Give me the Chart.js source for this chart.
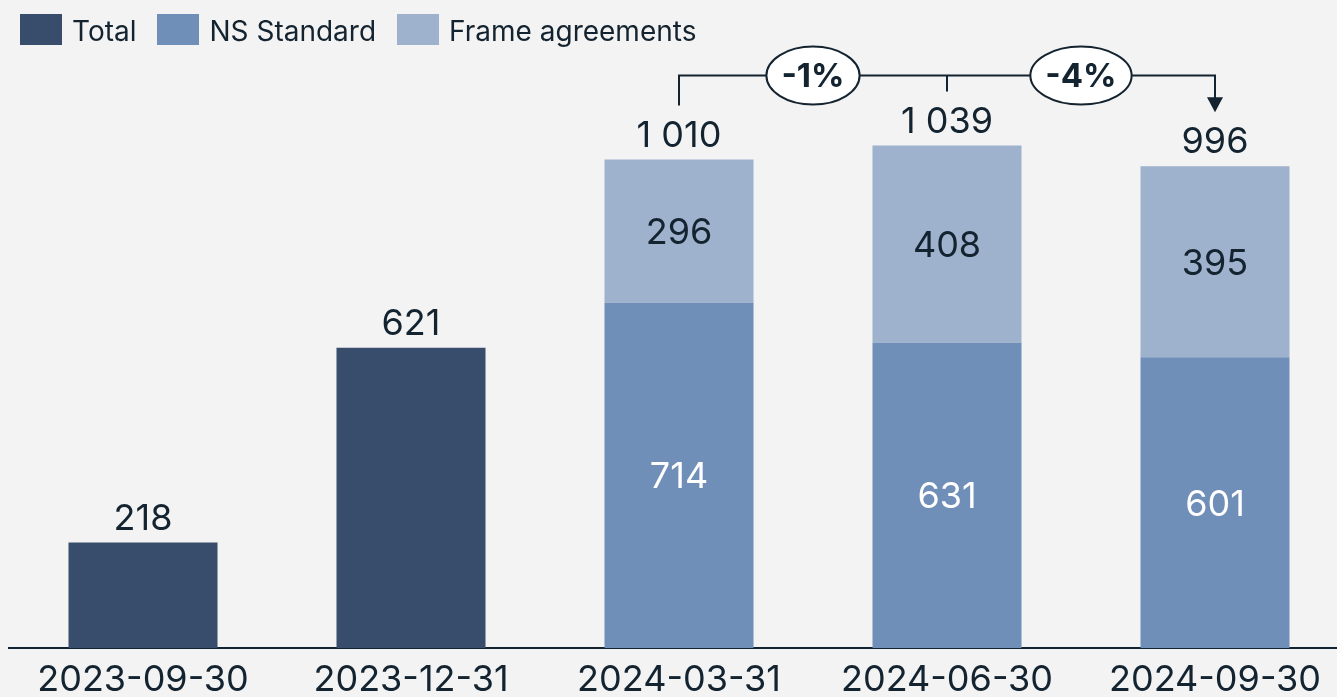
<!DOCTYPE html>
<html>
<head>
<meta charset="utf-8">
<script src="https://cdn.jsdelivr.net/npm/chart.js@4/dist/chart.umd.min.js"></script>
<style>
    html, body { margin: 0; padding: 0; background: #f3f3f3; overflow: hidden; }
    #wrap { position: relative; width: 1337px; height: 697px; overflow: hidden; }
    #chart { position: absolute; left: 0; top: 0; }
    #legend { position: absolute; left: 20px; top: 12px; display: flex; font-family: Inter, sans-serif; font-size: 28px; color: #13232f; }
    .item { display: flex; align-items: center; margin-right: 21px; height: 31px; padding-top: 3px; }
    .swatch { width: 42px; height: 31px; margin-right: 10px; margin-top: -3px; }
</style>
</head>
<body>
<div id="wrap">
    <canvas id="chart" width="1350" height="709"></canvas>
    <div id="legend"></div>
</div>
<script>
const categories = ["2023-09-30", "2023-12-31", "2024-03-31", "2024-06-30", "2024-09-30"];
const totalValues = [218, 621, null, null, null];
const nsStandardValues = [null, null, 714, 631, 601];
const frameValues = [null, null, 296, 408, 395];
const seriesNames = ["Total", "NS Standard", "Frame agreements"];
const seriesColors = ["#384d6c", "#6f8eb8", "#9eb1cd"];
const labelColors = ["#ffffff", "#ffffff", "#13232f"];
const yMax = 1340;

const textColor = "#13232f";
const fontName = "Inter, sans-serif";

function formatNumber(v) {
    // thousands with a space, like "1 010"
    return String(v).replace(/\B(?=(\d{3})+(?!\d))/g, "\u00a0");
}

function stackTotal(i) {
    return (totalValues[i] || 0) + (nsStandardValues[i] || 0) + (frameValues[i] || 0);
}

// legend in html
const legend = document.getElementById("legend");
seriesNames.forEach((name, i) => {
    legend.innerHTML += `<div class="item"><div class="swatch" style="background:${seriesColors[i]}"></div>${name}</div>`;
});

// numbers inside the segments and totals above the stacks
const labelsPlugin = {
    id: "barLabels",
    afterDatasetsDraw(chart) {
        const ctx = chart.ctx;
        const yScale = chart.scales.y;
        ctx.save();
        ctx.font = "36px " + fontName;
        ctx.textAlign = "center";

        chart.data.datasets.forEach((ds, d) => {
            const meta = chart.getDatasetMeta(d);
            meta.data.forEach((bar, i) => {
                if (ds.data[i] == null || d === 0) return;
                ctx.fillStyle = labelColors[d];
                ctx.textBaseline = "middle";
                ctx.fillText(formatNumber(ds.data[i]), bar.x, (bar.y + bar.base) / 2 + 2);
            });
        });

        const xScale = chart.scales.x;
        ctx.fillStyle = textColor;
        ctx.textBaseline = "alphabetic";
        categories.forEach((c, i) => {
            const top = yScale.getPixelForValue(stackTotal(i));
            ctx.fillText(formatNumber(stackTotal(i)), xScale.getPixelForValue(i), top - 13);
        });
        ctx.restore();
    }
};

// change bracket: 2024-03-31 -> 2024-09-30 and 2024-06-30 -> 2024-09-30
const bracketPlugin = {
    id: "bracket",
    afterDatasetsDraw(chart) {
        const ctx = chart.ctx;
        const xScale = chart.scales.x;
        const yScale = chart.scales.y;
        const idx = [2, 3, 4];
        const xs = idx.map(i => xScale.getPixelForValue(i));
        const tops = idx.map(i => yScale.getPixelForValue(stackTotal(i)) - 54);
        const lineY = Math.min(...idx.map(i => yScale.getPixelForValue(stackTotal(i)))) - 70;

        ctx.save();
        ctx.strokeStyle = textColor;
        ctx.fillStyle = textColor;
        ctx.lineWidth = 2;
        ctx.beginPath();
        ctx.moveTo(xs[0], tops[0]);
        ctx.lineTo(xs[0], lineY);
        ctx.lineTo(xs[2], lineY);
        ctx.lineTo(xs[2], tops[2] - 14);
        ctx.moveTo(xs[1], lineY);
        ctx.lineTo(xs[1], tops[1]);
        ctx.stroke();

        // arrow head
        ctx.beginPath();
        ctx.moveTo(xs[2] - 8, tops[2] - 15);
        ctx.lineTo(xs[2] + 8, tops[2] - 15);
        ctx.lineTo(xs[2], tops[2]);
        ctx.closePath();
        ctx.fill();

        const last = stackTotal(4);
        const changes = [
            Math.round((last - stackTotal(2)) / stackTotal(2) * 100),
            Math.round((last - stackTotal(3)) / stackTotal(3) * 100)
        ];
        ctx.font = "bold 33px " + fontName;
        ctx.textAlign = "center";
        ctx.textBaseline = "middle";
        changes.forEach((p, k) => {
            const text = p + "%";
            const cx = (xs[k] + xs[k + 1]) / 2;
            const rx = ctx.measureText(text).width / 2 + 15;
            ctx.beginPath();
            ctx.ellipse(cx, lineY, rx, 29, 0, 0, Math.PI * 2);
            ctx.fillStyle = "#ffffff";
            ctx.fill();
            ctx.stroke();
            ctx.fillStyle = textColor;
            ctx.fillText(text, cx, lineY + 2);
        });
        ctx.restore();
    }
};

const ctx = document.getElementById("chart").getContext("2d");
new Chart(ctx, {
    type: "bar",
    data: {
        labels: categories,
        datasets: [
            { label: seriesNames[0], data: totalValues, backgroundColor: seriesColors[0] },
            { label: seriesNames[1], data: nsStandardValues, backgroundColor: seriesColors[1] },
            { label: seriesNames[2], data: frameValues, backgroundColor: seriesColors[2] }
        ]
    },
    options: {
        responsive: false,
        animation: false,
        layout: { padding: { left: 9, right: 1, top: 0, bottom: 0 } },
        datasets: { bar: { barPercentage: 0.556, categoryPercentage: 1, borderWidth: 0 } },
        plugins: { legend: { display: false }, tooltip: { enabled: false } },
        scales: {
            x: {
                stacked: true,
                grid: { display: false, drawTicks: false },
                border: { display: true, color: textColor, width: 2 },
                ticks: { color: textColor, padding: 12, font: { family: fontName, size: 36, lineHeight: 1.1 } },
                afterFit(scale) { scale.height = 61; }
            },
            y: {
                stacked: true,
                display: false,
                min: 0,
                max: yMax
            }
        }
    },
    plugins: [labelsPlugin, bracketPlugin]
});
</script>
</body>
</html>
